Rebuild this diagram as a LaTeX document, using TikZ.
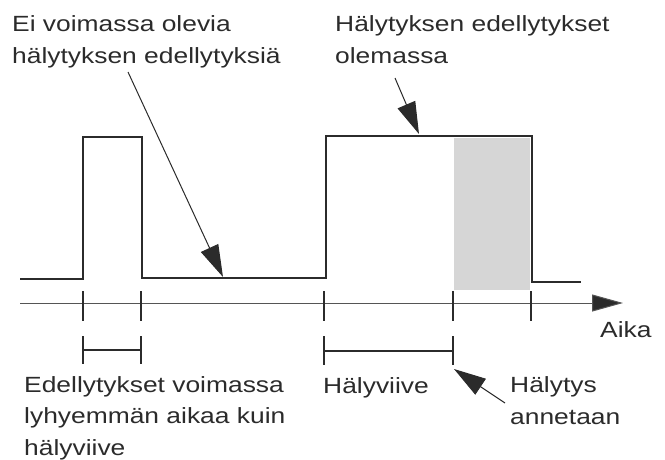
\documentclass[tikz,border=0pt]{standalone}
\usepackage{fontspec}
\setmainfont{Liberation Sans}[FakeStretch=1.2]
\usetikzlibrary{arrows.meta}
\definecolor{ink}{HTML}{2B2B2B}
\definecolor{axisgray}{HTML}{555555}
\definecolor{shadegray}{HTML}{D6D6D6}

\begin{document}
\begin{tikzpicture}[x=1pt,y=-1pt,
  lbl/.style={inner sep=0pt, anchor=base west, align=left, text=ink,
              font=\fontsize{22}{31.5}\selectfont},
  signal/.style={draw=ink, line width=1.4pt},
  axisline/.style={draw=axisgray, line width=1pt},
  tickmark/.style={draw=ink, line width=2pt},
  spanbar/.style={draw=ink, line width=1.6pt},
  pointer/.style={draw=ink, line width=1pt,
                  -{Triangle[length=32pt,width=19pt,fill=ink]}},
]
\useasboundingbox (0,0) rectangle (665,459);

% shaded interval after the alarm delay
\fill[shadegray] (454,138) rectangle (530,290);

% condition signal
\draw[signal] (20,279) -- (83,279) -- (83,137) -- (142,137) -- (142,278)
  -- (326,278) -- (326,136) -- (532,136) -- (532,282) -- (581,282);

% time axis
\coordinate (axstart) at (20,303);
\coordinate (axend) at (623,303);
\draw[axisline, -{Triangle[length=31pt,width=17pt,fill=ink]}] (axstart) -- (axend);
\foreach \t in {83,141,324,453,531}
  \draw[tickmark] (\t,291) -- (\t,321);

% interval markers
\draw[spanbar] (83,336) -- (83,364) (141,336) -- (141,364) (83,350) -- (141,350);
\draw[spanbar] (324,336) -- (324,365) (453,336) -- (453,365) (324,351) -- (453,351);

% labels (base anchor of a multi-line label sits on its last line)
\node[lbl] (noconds) at (12,63) {Ei voimassa olevia\\hälytyksen edellytyksiä};
\node[lbl] (conds) at (335,63) {Hälytyksen edellytykset\\olemassa};
\node[lbl] (time) at (600,337) {Aika};
\node[lbl] (short) at (24,455) {Edellytykset voimassa\\lyhyemmän aikaa kuin\\hälyviive};
\node[lbl] (delay) at (323,393) {Hälyviive};
\node[lbl] (alarm) at (510,424) {Hälytys\\annetaan};

% pointers
\coordinate (nocondsTail) at (128,72);
\coordinate (nocondsTip) at (223,277);
\coordinate (condsTail) at (395,78);
\coordinate (condsTip) at (419,134);
\coordinate (alarmTail) at (505,403);
\coordinate (alarmTip) at (454,369);
\draw[pointer] (nocondsTail) -- (nocondsTip);
\draw[pointer] (condsTail) -- (condsTip);
\draw[pointer] (alarmTail) -- (alarmTip);
\end{tikzpicture}
\end{document}
